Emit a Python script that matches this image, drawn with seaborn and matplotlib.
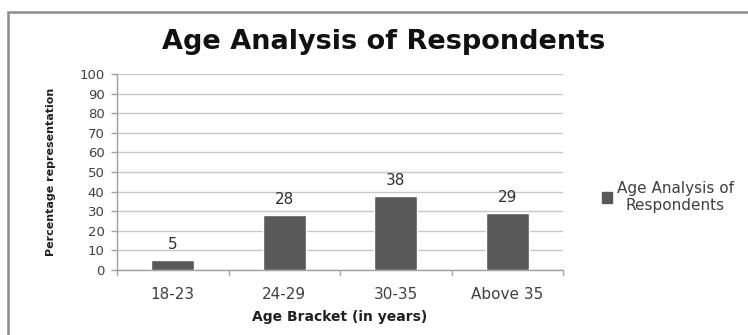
import matplotlib
matplotlib.use("Agg")
import matplotlib.pyplot as plt
import matplotlib.patches as mpatches
import seaborn as sns
import pandas as pd

categories = ["18-23", "24-29", "30-35", "Above 35"]
percentages = [5, 28, 38, 29]
series_name = "Age Analysis of Respondents"
y_ticks = list(range(0, 101, 10))

sns.set_theme(style="white")
plt.rcParams["font.family"] = ["DejaVu Sans"]

df = pd.DataFrame({"bracket": categories, "pct": percentages})

fig = plt.figure(figsize=(7.48, 3.35), dpi=100)
ax = fig.add_axes([117 / 748, 1 - 270 / 335, (563 - 117) / 748, (270 - 74) / 335])

bar_color = "#595959"
sns.barplot(data=df, x="bracket", y="pct", color=bar_color, width=0.39,
            saturation=1, ax=ax, zorder=3)

ax.set_ylim(0, 100)
ax.set_xlim(-0.5, len(categories) - 0.5)
ax.set_yticks(y_ticks)
ax.set_yticklabels([str(t) for t in y_ticks], fontsize=9.5, color="#404040")
ax.yaxis.grid(True, color="#c8c8c8", linewidth=1.0, zorder=0)
ax.set_axisbelow(True)

# category boundary ticks on the x axis
ax.set_xticks(range(len(categories)))
ax.set_xticklabels(categories, fontsize=11, color="#404040")
ax.tick_params(axis="x", length=0, pad=12)
ax.tick_params(axis="y", length=4, width=1, color="#a0a0a0", direction="out", pad=5, left=True)
for b in [i - 0.5 for i in range(len(categories) + 1)]:
    ax.plot([b, b], [0, -2.5], color="#a0a0a0", lw=1, clip_on=False)

for s in ["top", "right"]:
    ax.spines[s].set_visible(False)
for s in ["left", "bottom"]:
    ax.spines[s].set_color("#a0a0a0")
    ax.spines[s].set_linewidth(1)

for i, v in enumerate(percentages):
    ax.text(i, v + 4, str(v), ha="center", va="bottom", fontsize=11, color="#303030")

ax.set_xlabel("Age Bracket (in years)", fontsize=10, fontweight="bold", color="#202020", labelpad=6)
ax.set_ylabel("Percentage representation", fontsize=8, fontweight="bold", color="#202020",
              family=["Liberation Sans Narrow", "DejaVu Sans"], labelpad=17)

fig.text(384 / 748, 1 - 42 / 335, series_name, ha="center", va="center",
         fontsize=19.5, fontweight="bold", color="#111111")

# legend
handle = mpatches.Patch(color=bar_color, label="Age Analysis of\nRespondents")
leg = fig.legend(handles=[handle], loc="center left", bbox_to_anchor=(594 / 748, 1 - 197 / 335),
                 frameon=False, fontsize=11, handlelength=0.7, handleheight=0.7,
                 handletextpad=0.3, borderpad=0, labelspacing=0.2)
for t in leg.get_texts():
    t.set_color("#404040")
    t.set_multialignment("center")

# outer chart frame
frame = mpatches.Rectangle((8 / 748, -0.05), 1.05, 1 - 12 / 335 + 0.05, transform=fig.transFigure,
                           fill=False, edgecolor="#8c8c8c", linewidth=1.8)
fig.patches.append(frame)

fig.savefig("out.png", dpi=100)
